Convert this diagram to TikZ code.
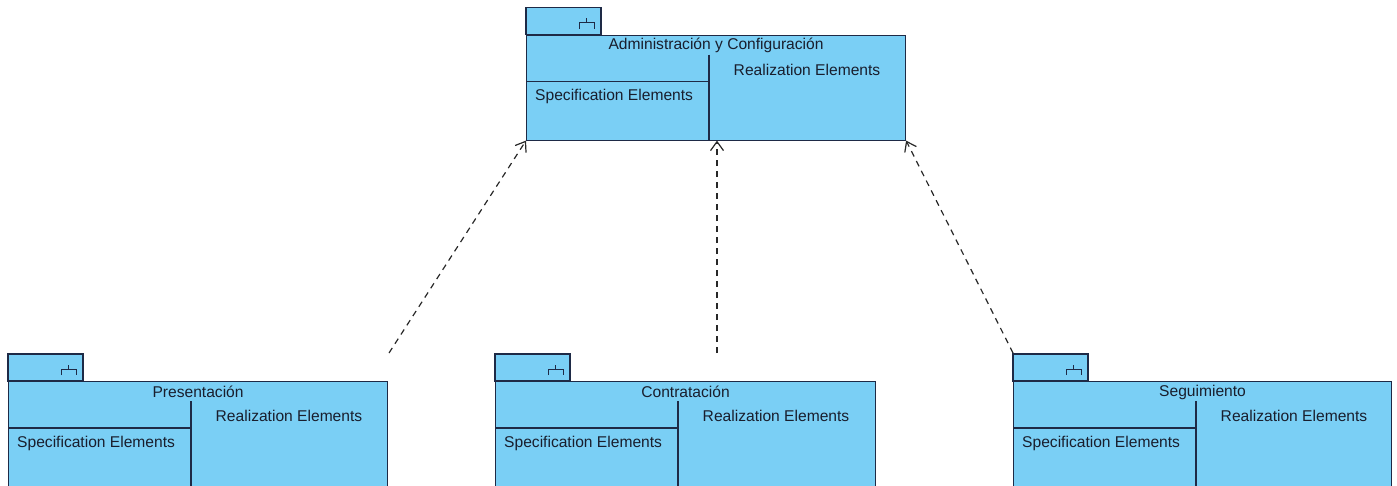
\documentclass[tikz,border=0pt]{standalone}
\usepackage{fontspec}
\setmainfont{Liberation Sans}
\usetikzlibrary{arrows.meta}

\definecolor{pkgfill}{RGB}{122,207,245}
\definecolor{pkgdraw}{RGB}{30,42,70}
\definecolor{deplink}{RGB}{40,40,40}
\definecolor{pkgink}{RGB}{25,30,45}

\tikzset{
  pkgline/.style={draw=pkgdraw, line width=1.1pt},
  pkgbody/.style={pkgline, fill=pkgfill, rectangle, inner sep=0pt, anchor=north west},
  pkgtab/.style={pkgline, fill=pkgfill},
  pkgtext/.style={inner sep=0pt, font=\fontsize{15.6}{18}\selectfont, text=pkgink},
  dependency/.style={draw=deplink, line width=1.2pt, dash pattern=on 6pt off 5pt,
    -{Straight Barb[length=9pt, width=13pt, line width=1.2pt]}},
}

% UML package: #1 name, #2 left x, #3 tab top y, #4 body width, #5 body height, #6 title
\newcommand\umlpkg[6]{%
  \draw[pkgtab] (#2,#3) rectangle ++(75,27);
  \draw[pkgdraw, line width=1pt]
    (#2+75-22,#3+21) -- ++(0,-6) -- ++(15,0) -- ++(0,6)
    (#2+75-14.5,#3+15) -- ++(0,-4.5);
  \node[pkgbody, minimum width=#4pt, minimum height=#5pt] (#1) at (#2,#3+27) {};
  \draw[pkgline] ([xshift=183pt,yshift=-20pt]#1.north west) -- ([xshift=183pt]#1.south west);
  \draw[pkgline] ([yshift=-47pt]#1.north west) -- ++(183,0);
  \node[pkgtext] (#1-title) at ([yshift=-11pt]#1.north) {#6};
  \node[pkgtext] (#1-real) at ([xshift=281pt,yshift=-35pt]#1.north west) {Realization Elements};
  \node[pkgtext, anchor=west] (#1-spec) at ([xshift=9pt,yshift=-62pt]#1.north west) {Specification Elements};
}

\begin{document}
\begin{tikzpicture}[x=1pt, y=-1pt]
  \useasboundingbox (0,0) rectangle (1397,485);
  \clip (0,0) rectangle (1397,485);

  \umlpkg{admin}{526}{7.5}{379}{105}{Administración y Configuración}
  \umlpkg{pres}{8}{354}{379}{120}{Presentación}
  \umlpkg{contr}{495}{354}{380}{120}{Contratación}
  \umlpkg{segu}{1013}{354}{378}{120}{Seguimiento}

  % free ends of the dependency lines
  \coordinate (presdep) at (389,353);
  \coordinate (contrdep) at (717,353);
  \coordinate (segudep) at (1013,353);
  \coordinate (admintop) at ([xshift=191pt]admin.south west);

  \draw[dependency] (presdep) -- (admin.south west);
  \draw[dependency] (contrdep) -- (admintop);
  \draw[dependency] (segudep) -- (admin.south east);
\end{tikzpicture}
\end{document}
